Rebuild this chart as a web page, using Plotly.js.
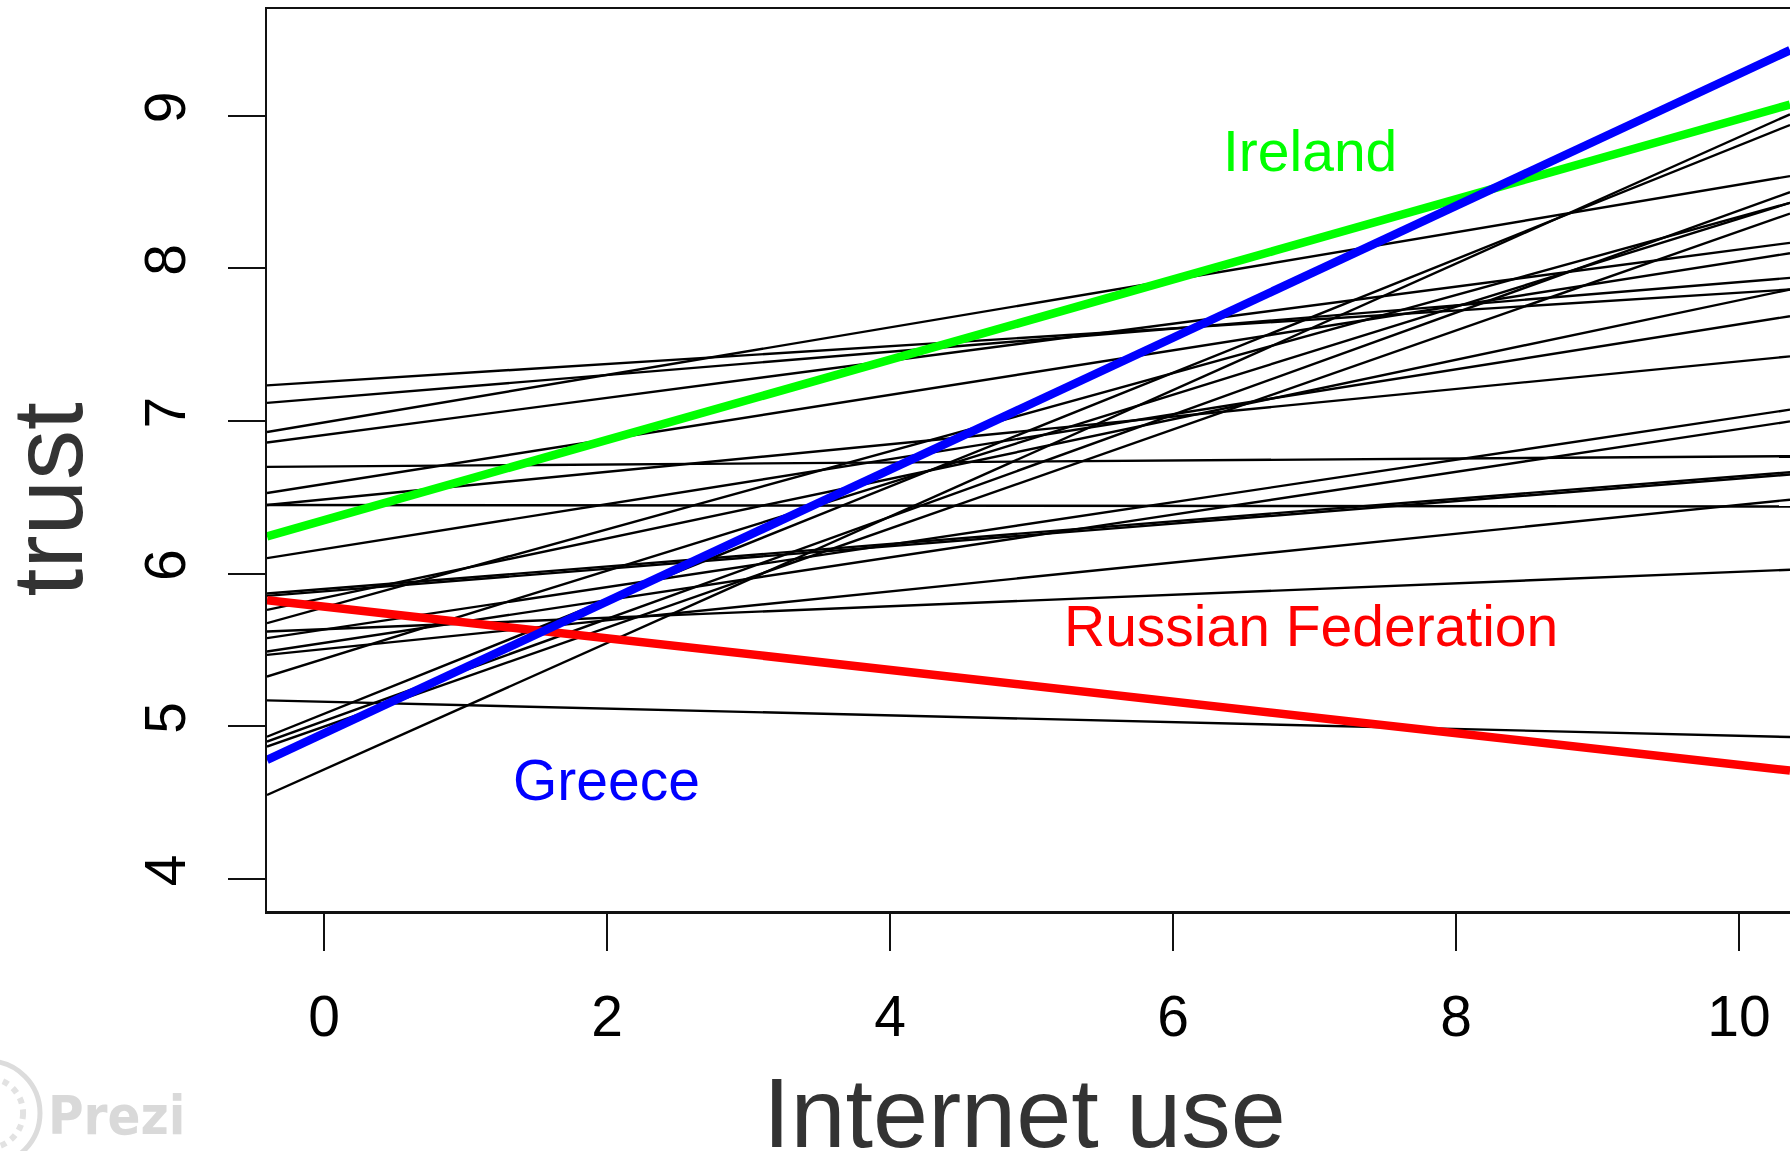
<!DOCTYPE html>
<html>
<head>
<meta charset="utf-8">
<script src="https://cdn.plot.ly/plotly-3.0.1.min.js"></script>
<style>
  html, body { margin: 0; padding: 0; background: #ffffff; overflow: hidden; }
  #chart { width: 1830px; height: 1151px; }
</style>
</head>
<body>
<div id="chart"></div>
<script>
// x positions where each fitted line is read (left frame edge, right picture edge)
const xEnds = [-0.403, 10.36];

// black country lines: trust at left end and at right end
const blackLeft  = [7.234, 7.119, 6.928, 6.860, 6.700, 6.529, 6.450, 6.450, 6.102, 5.855, 5.870, 5.763, 5.676, 5.621, 5.578, 5.490, 5.468, 5.326, 5.170, 4.932, 4.900, 4.867, 4.550];
const blackRight = [7.862, 7.938, 8.605, 8.168, 6.770, 8.100, 7.424, 6.440, 7.687, 6.650, 6.665, 7.862, 8.430, 6.026, 7.075, 6.998, 6.485, 8.430, 4.930, 8.940, 8.500, 8.360, 9.010];

// highlighted countries
const countries    = ["Russian Federation", "Ireland", "Greece"];
const countryLeft  = [5.826, 6.245, 4.780];
const countryRight = [4.710, 9.074, 9.430];
const countryColor = ["#ff0000", "#00ff00", "#0000ff"];
const labelX = [6.975, 6.97, 1.993];
const labelY = [5.658, 8.767, 4.648];

const xTicks = [0, 2, 4, 6, 8, 10];
const yTicks = [4, 5, 6, 7, 8, 9];

const traces = [];
for (let i = 0; i < blackLeft.length; i++) {
  traces.push({
    x: xEnds, y: [blackLeft[i], blackRight[i]],
    mode: "lines", type: "scatter",
    line: { color: "#000000", width: 2.4 },
    hoverinfo: "skip", showlegend: false
  });
}
for (let i = 0; i < countries.length; i++) {
  traces.push({
    x: xEnds, y: [countryLeft[i], countryRight[i]],
    mode: "lines", type: "scatter", name: countries[i],
    line: { color: countryColor[i], width: 8.5 },
    showlegend: false
  });
}

const font = "Liberation Sans, Arial, sans-serif";
const annotations = countries.map((c, i) => ({
  x: labelX[i], y: labelY[i], xref: "x", yref: "y",
  text: c, showarrow: false,
  font: { family: font, size: 57, color: countryColor[i] },
  xanchor: "center", yanchor: "middle"
}));
// axis titles placed as in the reference
annotations.push({
  xref: "paper", yref: "paper", x: 0.4924, y: -0.2235,
  xanchor: "center", yanchor: "middle", showarrow: false,
  text: "Internet use",
  font: { family: font, size: 99, color: "#333333" }
});
annotations.push({
  xref: "paper", yref: "paper", x: -0.1432, y: 0.4568,
  xanchor: "center", yanchor: "middle", showarrow: false,
  text: "trust", textangle: -90,
  font: { family: font, size: 100, color: "#333333" }
});
// watermark
annotations.push({
  xref: "paper", yref: "paper", x: -0.1436, y: -0.2262,
  xanchor: "left", yanchor: "middle",
  text: "<b>Prezi</b>", showarrow: false,
  font: { family: "DejaVu Sans Condensed, Liberation Sans, Arial, sans-serif", size: 54, color: "#d9d9d9" }
});

const layout = {
  width: 1830, height: 1151,
  margin: { l: 267, r: 24, t: 9, b: 240 },
  paper_bgcolor: "#ffffff", plot_bgcolor: "#ffffff",
  showlegend: false,
  xaxis: {
    range: [-0.403, 10.473],
    tickvals: xTicks, ticktext: xTicks.map(String),
    ticks: "outside", ticklen: 37, tickwidth: 2, tickcolor: "#111",
    showline: true, mirror: true, linecolor: "#111", linewidth: 2.5,
    showgrid: false, zeroline: false,
    ticklabelstandoff: 17,
    tickfont: { family: font, size: 57, color: "#000" }
  },
  yaxis: {
    range: [3.79, 9.70],
    tickvals: yTicks, ticktext: yTicks.map(String),
    tickangle: -90,
    ticks: "outside", ticklen: 37, tickwidth: 2, tickcolor: "#111",
    showline: true, mirror: true, linecolor: "#111", linewidth: 2.5,
    showgrid: false, zeroline: false,
    ticklabelstandoff: 20,
    tickfont: { family: font, size: 57, color: "#000" }
  },
  annotations: annotations,
  shapes: [
    { type: "circle", xref: "paper", yref: "paper",
      x0: -0.2151, x1: -0.1475, y0: -0.2816, y1: -0.1663,
      line: { color: "#dcdcdc", width: 5 } },
    { type: "circle", xref: "paper", yref: "paper",
      x0: -0.2040, x1: -0.1585, y0: -0.2627, y1: -0.1851,
      line: { color: "#e2e2e2", width: 6, dash: "dot" } }
  ]
};

Plotly.newPlot("chart", traces, layout, { staticPlot: true, displayModeBar: false });
</script>
</body>
</html>
